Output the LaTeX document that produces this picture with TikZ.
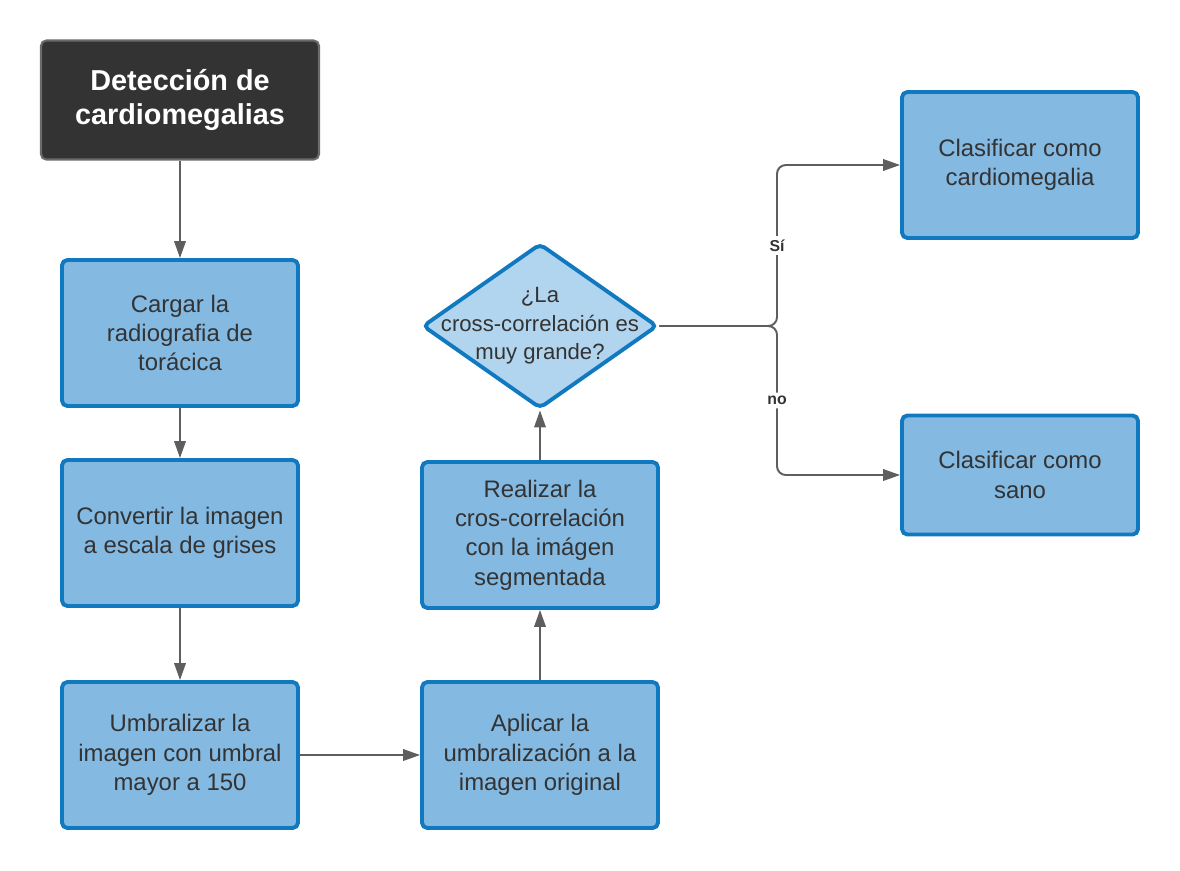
\documentclass[tikz,border=0pt]{standalone}
\usepackage{fontspec}
\setmainfont{Liberation Sans}
\usetikzlibrary{shapes.geometric,arrows.meta}
\definecolor{boxfill}{HTML}{84B9E2}
\definecolor{boxline}{HTML}{1079BF}
\definecolor{decfill}{HTML}{B2D5EF}
\definecolor{titlefill}{HTML}{333333}
\definecolor{titleline}{HTML}{6A6A6A}
\definecolor{txt}{HTML}{333333}
\definecolor{flowline}{HTML}{5E5E5E}
\begin{document}
\begin{tikzpicture}[x=0.02cm, y=-0.02cm,
        box/.style={draw=boxline, fill=boxfill, line width=2.2pt, rounded corners=3pt, minimum width=4.72cm, minimum height=2.92cm, inner sep=0pt, align=center, text=txt, font=\fontsize{13.6}{16.7}\selectfont},
        titlebox/.style={draw=titleline, fill=titlefill, line width=1.2pt, rounded corners=3pt, minimum width=5.56cm, minimum height=2.38cm, align=center, text=white, font=\bfseries\fontsize{16.4}{19.8}\selectfont},
        decision/.style={diamond, draw=boxline, fill=decfill, line width=2.2pt, rounded corners=3pt, minimum width=4.7cm, minimum height=3.3cm, inner sep=0pt},
        flow/.style={draw=flowline, line width=1.1pt, -{Triangle[length=0.34cm, width=0.23cm]}},
        lbl/.style={fill=white, text=txt, inner sep=2pt, font=\bfseries\fontsize{9}{11}\selectfont}]
    \useasboundingbox (0,0) rectangle (1180,870);
    \node[titlebox] (start) at (180,100) {Detección de\\cardiomegalias};
    \node[box] (load) at (180,333) {Cargar la\\radiografia de\\torácica};
    \node[box] (gray) at (180,533) {Convertir la imagen\\a escala de grises};
    \node[box] (thr) at (180,755) {Umbralizar la\\imagen con umbral\\mayor a 150};
    \node[box] (apply) at (540,755) {Aplicar la\\umbralización a la\\imagen original};
    \node[box] (xcorr) at (540,535) {Realizar la\\cros-correlación\\con la imágen\\segmentada};
    \node[decision] (dec) at (540,326) {};
    \node[align=center, text=txt, font=\fontsize{12.6}{16.2}\selectfont] (dectext) at (dec.center) {¿La\\cross-correlación es\\muy grande?};
    \node[box, minimum height=2.92cm] (cardio) at (1020,165) {Clasificar como\\cardiomegalia};
    \node[box, minimum height=2.38cm] (sano) at (1020,475) {Clasificar como\\sano};
    \coordinate (split) at (777,326);
    \foreach \i/\j in {start/load, load/gray, gray/thr, thr/apply, apply/xcorr, xcorr/dec}
        \draw[flow] (\i) -- (\j);
    \draw[flow, rounded corners=5pt] (dec.east) -- (split) |- node[lbl, pos=0.25] (yes) {Sí} (cardio.west);
    \draw[flow, rounded corners=5pt] (dec.east) -- (split) |- node[lbl, pos=0.25] (no) {no} (sano.west);
\end{tikzpicture}
\end{document}
